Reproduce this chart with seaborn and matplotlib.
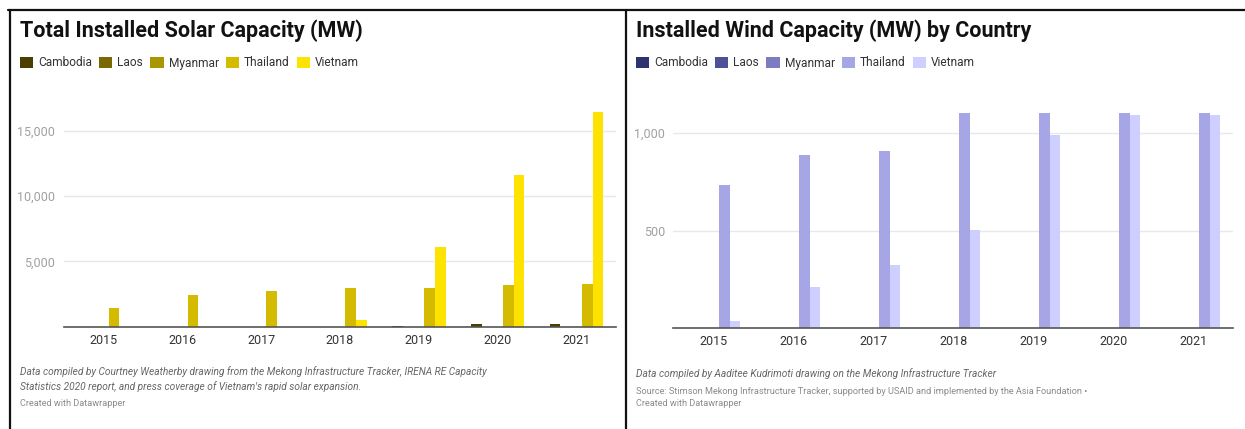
import matplotlib
matplotlib.use("Agg")
import matplotlib.pyplot as plt
from matplotlib.lines import Line2D
from matplotlib.ticker import FixedLocator, FuncFormatter
import pandas as pd
import seaborn as sns

# ---- data -------------------------------------------------------------
years = ["2015", "2016", "2017", "2018", "2019", "2020", "2021"]
countries = ["Cambodia", "Laos", "Myanmar", "Thailand", "Vietnam"]

solar_cambodia = [0, 0, 0, 0, 90, 210, 210]
solar_laos = [0, 0, 0, 0, 0, 0, 0]
solar_myanmar = [0, 0, 0, 0, 0, 0, 0]
solar_thailand = [1430, 2430, 2710, 2960, 2980, 3220, 3290]
solar_vietnam = [0, 0, 0, 490, 6100, 11590, 16450]

wind_cambodia = [0, 0, 0, 0, 0, 0, 0]
wind_laos = [0, 0, 0, 0, 0, 0, 0]
wind_myanmar = [0, 0, 0, 0, 0, 0, 0]
wind_thailand = [733, 884, 906, 1103, 1103, 1103, 1103]
wind_vietnam = [36, 211, 325, 504, 990, 1092, 1092]

solar_colors = ["#4b3f00", "#786900", "#a89700", "#d4bb00", "#ffe300"]
wind_colors = ["#2f3271", "#4f5196", "#7b7cc2", "#a6a6e6", "#cfcfff"]

solar_ticks = [5000, 10000, 15000]
wind_ticks = [500, 1000]

solar_title = "Total Installed Solar Capacity (MW)"
wind_title = "Installed Wind Capacity (MW) by Country"
solar_notes = ("Data compiled by Courtney Weatherby drawing from the Mekong Infrastructure Tracker, IRENA RE Capacity\n"
               "Statistics 2020 report, and press coverage of Vietnam's rapid solar expansion.")
wind_notes = "Data compiled by Aaditee Kudrimoti drawing on the Mekong Infrastructure Tracker"
wind_source = "Source: Stimson Mekong Infrastructure Tracker, supported by USAID and implemented by the Asia Foundation \u2022"
credit = "Created with Datawrapper"


def long_table(series):
    rows = []
    for country, values in zip(countries, series):
        for year, v in zip(years, values):
            rows.append({"year": year, "country": country, "mw": v})
    return pd.DataFrame(rows)


solar_df = long_table([solar_cambodia, solar_laos, solar_myanmar, solar_thailand, solar_vietnam])
wind_df = long_table([wind_cambodia, wind_laos, wind_myanmar, wind_thailand, wind_vietnam])

# ---- style ------------------------------------------------------------
sns.set_theme(style="white")
plt.rcParams["font.family"] = ["Roboto", "DejaVu Sans"]

W, H = 1245, 429
fig = plt.figure(figsize=(W / 100, H / 100), dpi=100)
fig.patch.set_facecolor("white")


def fx(px):
    return px / W


def fy(py):
    return 1 - py / H


def panel(rect, df, palette, ticks, ymax, x0, title, legend_y, ypad):
    ax = fig.add_axes(rect)
    sns.barplot(data=df, x="year", y="mw", hue="country", order=years,
                hue_order=countries, palette=palette, saturation=1,
                width=0.68, errorbar=None, linewidth=0, ax=ax)
    ax.set_xlim(-0.5, len(years) - 0.5)
    ax.set_ylim(0, ymax)
    ax.yaxis.set_major_locator(FixedLocator(ticks))
    ax.yaxis.set_major_formatter(FuncFormatter(lambda v, p: f"{int(v):,}"))
    ax.grid(axis="y", color="#e8e8e8", linewidth=1.0)
    ax.set_axisbelow(True)
    for s in ["top", "right", "left"]:
        ax.spines[s].set_visible(False)
    ax.spines["bottom"].set_color("#555555")
    ax.spines["bottom"].set_linewidth(1.2)
    ax.spines["bottom"].set_zorder(5)
    ax.tick_params(axis="y", length=0, pad=ypad, labelsize=9, labelcolor="#a0a0a0")
    ax.tick_params(axis="x", length=0, pad=5, labelsize=9, labelcolor="#333333")
    ax.set_xlabel("")
    ax.set_ylabel("")
    sns.move_legend(ax, "upper left", bbox_to_anchor=(fx(x0), fy(legend_y)),
                    bbox_transform=fig.transFigure, ncol=5, frameon=False,
                    title=None, fontsize=8.6, handlelength=1.1, handleheight=1.1,
                    handletextpad=0.42, columnspacing=0.6, borderpad=0,
                    borderaxespad=0, labelcolor="#333333")
    fig.text(fx(x0), fy(37.5), title, fontsize=15.5, fontweight="bold",
             color="#111111", va="baseline", ha="left")
    return ax


panel([fx(63.9), fy(326.7), fx(552), 226.7 / H], solar_df, solar_colors,
      solar_ticks, 226.7 / 65.3 * 5000, 20, solar_title, 56.5, 6.5)
panel([fx(673.3), fy(328.3), fx(560), 228.3 / H], wind_df, wind_colors,
      wind_ticks, 228.3 / 97.8 * 500, 636, wind_title, 56.5, 6.0)

# footers
fig.text(fx(20), fy(379), solar_notes, fontsize=7.3, style="italic",
         color="#666666", va="center", ha="left", linespacing=1.45)
fig.text(fx(20), fy(403.3), credit, fontsize=6.6, color="#8a8a8a",
         va="center", ha="left")
fig.text(fx(636), fy(373.3), wind_notes, fontsize=7.3, style="italic",
         color="#666666", va="center", ha="left")
fig.text(fx(636), fy(391), wind_source, fontsize=6.6, color="#8a8a8a",
         va="center", ha="left")
fig.text(fx(636), fy(403.3), credit, fontsize=6.6, color="#8a8a8a",
         va="center", ha="left")

# frame lines separating the two panels
for xs, ys in [((fx(8), 1.0), (fy(9.5), fy(9.5))),
               ((fx(9.5), fx(9.5)), (fy(9.5), 0.0)),
               ((fx(625.5), fx(625.5)), (fy(9.5), 0.0))]:
    fig.add_artist(Line2D(xs, ys, color="#111111", linewidth=1.6,
                          transform=fig.transFigure))

fig.savefig("out.png", dpi=100, facecolor="white")
